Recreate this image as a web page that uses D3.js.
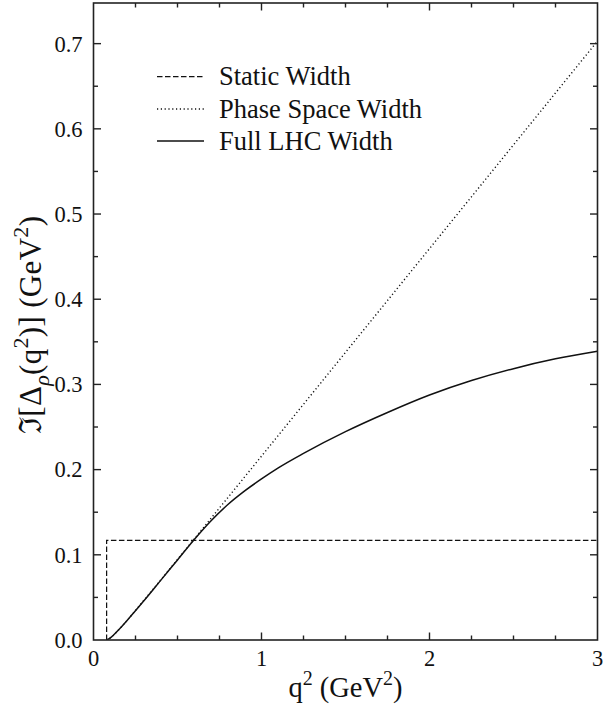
<!DOCTYPE html>
<html>
<head>
<meta charset="utf-8">
<script src="https://cdn.jsdelivr.net/npm/d3@7"></script>
<style>
  html, body { margin: 0; padding: 0; background: #fff; }
  svg { display: block; }
</style>
</head>
<body>
<svg id="chart" width="603" height="715"></svg>
<script>
// q^2 grid (GeV^2) and the imaginary part of the rho propagator (GeV^2)
const staticQ2 = [0.078, 0.078, 3.0];
const staticIm = [0.0, 0.117, 0.117];

const phaseQ2 = [0.078, 0.1, 0.15, 0.2, 0.3, 0.4, 0.5, 0.6, 0.8, 1.0, 1.25, 1.5, 1.75, 2.0, 2.25, 2.5, 2.75, 3.0];
const phaseIm = [0.0, 0.0025, 0.012, 0.023, 0.0466, 0.0704, 0.0945, 0.1187, 0.1672, 0.2158, 0.2767, 0.3376, 0.3985, 0.4594, 0.5203, 0.5812, 0.6421, 0.703];

const fullQ2 = [0.078, 0.1, 0.15, 0.2, 0.3, 0.4, 0.5, 0.6, 0.7, 0.8, 0.9, 1.0, 1.1, 1.25, 1.5, 1.75, 2.0, 2.25, 2.5, 2.75, 3.0];
const fullIm = [0.0, 0.0025, 0.012, 0.023, 0.046, 0.070, 0.094, 0.118, 0.140, 0.159, 0.175, 0.189, 0.202, 0.219, 0.2445, 0.267, 0.2875, 0.3045, 0.3185, 0.330, 0.339];

const legendLabels = ["Static Width", "Phase Space Width", "Full LHC Width"];
const xTickValues = [0, 1, 2, 3];
const yTickValues = [0.0, 0.1, 0.2, 0.3, 0.4, 0.5, 0.6, 0.7];

const FONT = "'Liberation Serif', 'DejaVu Serif', serif";

const svg = d3.select("#chart").style("font-family", FONT);
const margin = { left: 93.5, right: 5.5, top: 3, bottom: 75 };
const W = 603, H = 715;
const x0 = margin.left, x1 = W - margin.right;
const y0 = H - margin.bottom, y1 = margin.top;

const x = d3.scaleLinear().domain([0, 3]).range([x0, x1]);
const y = d3.scaleLinear().domain([0, 0.7477]).range([y0, y1]);

const ink = "#111";

// curves
const line = d3.line().x(d => x(d[0])).y(d => y(d[1])).curve(d3.curveMonotoneX);
const lineStep = d3.line().x(d => x(d[0])).y(d => y(d[1]));

const styles = [
  { dash: "5.5,2.5", width: 1.25 },
  { dash: "1.2,2.6", width: 1.4 },
  { dash: null, width: 1.5 }
];

const series = [
  { pts: staticQ2.map((q, i) => [q, staticIm[i]]), gen: lineStep, st: styles[0] },
  { pts: phaseQ2.map((q, i) => [q, phaseIm[i]]), gen: line, st: styles[1] },
  { pts: fullQ2.map((q, i) => [q, fullIm[i]]), gen: line, st: styles[2] }
];

const plot = svg.append("g");
plot.append("clipPath").attr("id", "clip").append("rect")
  .attr("x", x0).attr("y", y1).attr("width", x1 - x0).attr("height", y0 - y1);

series.forEach(s => {
  plot.append("path")
    .attr("d", s.gen(s.pts))
    .attr("fill", "none")
    .attr("stroke", ink)
    .attr("stroke-width", s.st.width)
    .attr("stroke-dasharray", s.st.dash)
    .attr("clip-path", "url(#clip)");
});

// frame
svg.append("rect")
  .attr("x", x0).attr("y", y1).attr("width", x1 - x0).attr("height", y0 - y1)
  .attr("fill", "none").attr("stroke", "#222").attr("stroke-width", 1.6);

// ticks on all four sides (inward)
const xMinor = d3.range(0, 3.0001, 0.25).filter(v => Math.abs(v - Math.round(v)) > 1e-6);
const yMinor = d3.range(0.05, 0.75, 0.1);

const ticks = svg.append("g").attr("stroke", "#222").attr("stroke-width", 1.4);
function xTick(v, len) {
  ticks.append("line").attr("x1", x(v)).attr("x2", x(v)).attr("y1", y0).attr("y2", y0 - len);
  ticks.append("line").attr("x1", x(v)).attr("x2", x(v)).attr("y1", y1).attr("y2", y1 + len);
}
function yTick(v, len) {
  ticks.append("line").attr("y1", y(v)).attr("y2", y(v)).attr("x1", x0).attr("x2", x0 + len);
  ticks.append("line").attr("y1", y(v)).attr("y2", y(v)).attr("x1", x1).attr("x2", x1 - len);
}
xTickValues.forEach(v => { if (v > 0 && v < 3) xTick(v, 7.5); });
xMinor.forEach(v => xTick(v, 4.5));
yTickValues.forEach(v => { if (v > 0) yTick(v, 7.5); });
yMinor.forEach(v => yTick(v, 4.5));

// tick labels
const fmtY = d3.format(".1f");
svg.append("g").selectAll("text").data(yTickValues).join("text")
  .attr("x", x0 - 11).attr("y", d => y(d)).attr("dy", "0.35em")
  .attr("text-anchor", "end").attr("font-size", 22.5).attr("fill", ink)
  .style("font-family", FONT)
  .text(d => fmtY(d));

svg.append("g").selectAll("text").data(xTickValues).join("text")
  .attr("x", d => x(d)).attr("y", y0 + 26)
  .attr("text-anchor", "middle").attr("font-size", 22.5).attr("fill", ink)
  .style("font-family", FONT)
  .text(d => d3.format("d")(d));

// axis titles
const xt = svg.append("text")
  .attr("x", (x0 + x1) / 2).attr("y", 697)
  .attr("text-anchor", "middle").attr("font-size", 28.5).attr("fill", ink)
  .style("font-family", FONT);
xt.append("tspan").text("q");
xt.append("tspan").attr("dy", -12).attr("font-size", 20).text("2");
xt.append("tspan").attr("dy", 12).text(" (GeV");
xt.append("tspan").attr("dy", -12).attr("font-size", 20).text("2");
xt.append("tspan").attr("dy", 12).text(")");

const yt = svg.append("text")
  .attr("transform", "translate(41,325) rotate(-90)")
  .attr("text-anchor", "middle").attr("font-size", 31).attr("fill", ink)
  .attr("textLength", 218).attr("lengthAdjust", "spacing")
  .style("font-family", FONT);
yt.append("tspan").text("\u2111[\u0394");
yt.append("tspan").attr("dy", 8).attr("font-size", 22).attr("font-style", "italic").text("\u03C1");
yt.append("tspan").attr("dy", -8).text("(q");
yt.append("tspan").attr("dy", -13).attr("font-size", 22).text("2");
yt.append("tspan").attr("dy", 13).text(")] (GeV");
yt.append("tspan").attr("dy", -13).attr("font-size", 22).text("2");
yt.append("tspan").attr("dy", 13).text(")");

// legend
const legend = svg.append("g");
const legY = [76.5, 109, 141];
legendLabels.forEach((lab, i) => {
  legend.append("line")
    .attr("x1", 157).attr("x2", 204).attr("y1", legY[i]).attr("y2", legY[i])
    .attr("stroke", ink).attr("stroke-width", styles[i].width)
    .attr("stroke-dasharray", styles[i].dash);
  legend.append("text")
    .attr("x", 219).attr("y", legY[i]).attr("dy", "0.33em")
    .attr("font-size", 26.5).attr("fill", ink).style("font-family", FONT).text(lab);
});
</script>
</body>
</html>
